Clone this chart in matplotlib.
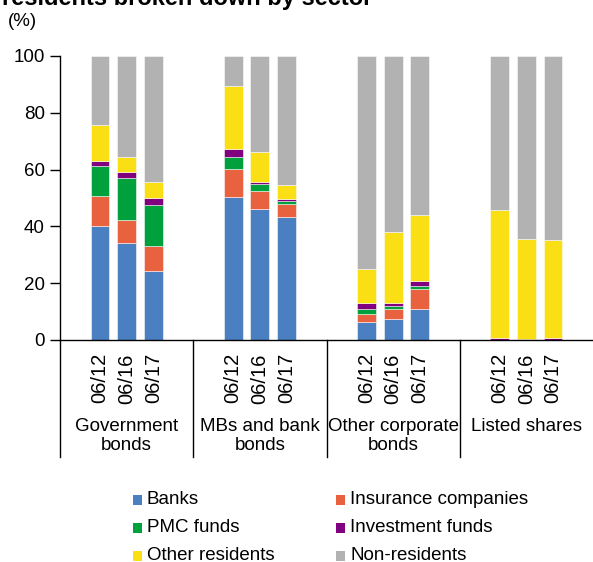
import matplotlib
matplotlib.use("Agg")
import matplotlib.pyplot as plt
from matplotlib.patches import Rectangle
import matplotlib.transforms as mtransforms
import numpy as np

plt.rcParams['font.family'] = ['Liberation Sans', 'DejaVu Sans']

groups = ["Government\nbonds", "MBs and bank\nbonds", "Other corporate\nbonds", "Listed shares"]
dates = ["06/12", "06/16", "06/17"]
series = ["Banks", "Insurance companies", "PMC funds", "Investment funds", "Other residents", "Non-residents"]
colors = ["#4A80C2", "#E9623F", "#00A03C", "#800080", "#FADF14", "#B2B2B2"]

# values per bar: Gov(06/12,06/16,06/17), MBs(...), Other corp(...), Listed(...)
banks       = [40.2, 34.0, 24.2, 50.2, 46.2, 43.4, 6.2, 7.4, 10.8, 0.0, 0.0, 0.0]
insurance   = [10.6, 8.4, 8.8, 9.9, 6.2, 4.5, 2.8, 3.4, 7.1, 0.0, 0.0, 0.0]
pmc         = [10.4, 14.8, 14.4, 4.4, 2.7, 1.1, 1.8, 1.1, 1.1, 0.0, 0.0, 0.0]
investment  = [1.7, 1.8, 2.7, 2.7, 0.5, 0.5, 2.1, 1.0, 1.8, 0.8, 0.3, 0.8]
other_res   = [12.7, 5.5, 5.5, 22.3, 10.6, 5.0, 12.2, 25.0, 23.2, 44.9, 35.3, 34.4]
non_res     = [24.4, 35.5, 44.4, 10.5, 33.8, 45.5, 74.9, 62.1, 56.0, 54.3, 64.4, 64.8]

data = [banks, insurance, pmc, investment, other_res, non_res]

W, H = 593, 562
fig = plt.figure(figsize=(W / 100, H / 100), dpi=100)
ax = fig.add_axes([60 / W, 1 - 340 / H, 533 / W, 284 / H])

n_dates = len(dates)
slots = 5
pos = []
for g in range(len(groups)):
    for d in range(n_dates):
        pos.append(g * slots + 1 + d)
pos = np.array(pos, dtype=float)

bottom = np.zeros(len(pos))
for vals, col, name in zip(data, colors, series):
    v = np.array(vals)
    ax.bar(pos, v, bottom=bottom, width=0.71, color=col, edgecolor=(1, 1, 1, 0.6),
           linewidth=0.6, label=name, zorder=2)
    bottom += v

ax.set_xlim(-0.5, len(groups) * slots - 0.5)
ax.set_ylim(0, 100)
ax.set_yticks([0, 20, 40, 60, 80, 100])
ax.tick_params(axis='y', direction='out', length=7, width=1, labelsize=13.5, pad=4)
ax.set_xticks(pos)
ax.set_xticklabels(dates * len(groups), rotation=90, fontsize=14.5, va='top')
ax.tick_params(axis='x', length=0, pad=9.5)
for s in ['top', 'right']:
    ax.spines[s].set_visible(False)
ax.spines['left'].set_linewidth(1)
ax.spines['bottom'].set_linewidth(1)

# group separators below axis
trans = mtransforms.blended_transform_factory(ax.transData, ax.transAxes)
ybot = (340 - 457) / 284
for g in range(len(groups)):
    xs = g * slots - 0.5
    ax.plot([xs, xs], [0, ybot], color='black', lw=1, transform=trans, clip_on=False)
    ax.text(g * slots + 2, (340 - 418) / 284, groups[g], transform=trans, ha='center',
            va='top', fontsize=13.5, linespacing=1.12)

# titles
fig.text(2 / W, 1 - 5 / H, "residents broken down by sector", fontsize=17,
         fontweight='bold', ha='left', va='baseline')
fig.text(8 / W, 1 - 21 / H, "(%)", fontsize=13.5, ha='left', va='center')

# legend
leg_cols_x = [133, 336]
leg_rows_y = [500, 528, 556]
for i, (name, col) in enumerate(zip(series, colors)):
    cx = leg_cols_x[i % 2]
    cy = leg_rows_y[i // 2]
    fig.patches.append(Rectangle((cx / W, 1 - (cy + 4.7) / H), 9.4 / W, 9.4 / H,
                                 transform=fig.transFigure, facecolor=col, edgecolor='none'))
    fig.text((cx + 14) / W, 1 - cy / H, name, fontsize=13.5, ha='left', va='center')

fig.savefig("out.png", dpi=100)
